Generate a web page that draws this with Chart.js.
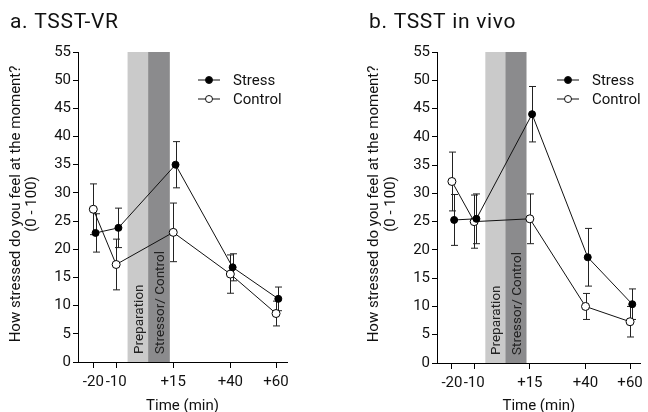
<!DOCTYPE html>
<html>
<head>
<meta charset="utf-8">
<script src="https://cdn.jsdelivr.net/npm/chart.js@4.4.0/dist/chart.umd.min.js"></script>
<style>
  html, body { margin: 0; padding: 0; background: #fff; }
  .panel { position: absolute; top: 0; width: 324px; height: 412px; }
  #left { left: 0; }
  #right { left: 324px; }
</style>
</head>
<body>
<div class="panel" id="left"><canvas id="chartVR" width="324" height="412"></canvas></div>
<div class="panel" id="right"><canvas id="chartVivo" width="324" height="412"></canvas></div>
<script>
// time points (min); stress markers sit slightly right of the ticks
const timePoints = [-20, -10, 15, 40, 60];
const stressTimes = [-19, -9, 16, 41, 61];
const timeLabels = ['-20', '-10', '+15', '+40', '+60'];

// a. TSST-VR
const vrStress = [22.9, 23.8, 35.0, 16.8, 11.2];
const vrStressErr = [3.4, 3.5, 4.1, 2.4, 2.1];
const vrControl = [27.1, 17.3, 23.0, 15.6, 8.6];
const vrControlErr = [4.5, 4.5, 5.2, 3.4, 2.2];

// b. TSST in vivo
const vivoStress = [25.3, 25.5, 44.0, 18.7, 10.4];
const vivoStressErr = [4.5, 4.4, 4.9, 5.1, 2.7];
const vivoControl = [32.1, 25.0, 25.5, 10.0, 7.3];
const vivoControlErr = [5.2, 4.7, 4.4, 2.3, 2.7];

// shaded phases: preparation, then stressor/control
const phaseLimits = [-5, 4, 13.5];
const phaseLabels = ['Preparation', 'Stressor/ Control'];
const phaseColors = ['#cacaca', '#8b8b8d'];

const yTitle = ['How stressed do you feel at the moment?', '(0 - 100)'];
const FONT = 'Roboto';
const INK = '#111';

function errorBars(ctx, x, y, times, vals, errs) {
  ctx.beginPath();
  times.forEach((t, i) => {
    const px = Math.round(x.getPixelForValue(t)) + 0.5;
    const top = y.getPixelForValue(vals[i] + errs[i]);
    const bot = y.getPixelForValue(vals[i] - errs[i]);
    ctx.moveTo(px, top);
    ctx.lineTo(px, bot);
    ctx.moveTo(px - 3.5, top);
    ctx.lineTo(px + 3.5, top);
    ctx.moveTo(px - 3.5, bot);
    ctx.lineTo(px + 3.5, bot);
  });
  ctx.stroke();
}

function decorPlugin(cfg) {
  return {
    id: 'decor',
    beforeDatasetsDraw(chart) {
      const { ctx, scales: { x, y } } = chart;
      const yTop = y.getPixelForValue(55);
      const yBot = y.getPixelForValue(0);
      ctx.save();
      for (let i = 0; i < 2; i++) {
        const x0 = x.getPixelForValue(phaseLimits[i]);
        const x1 = x.getPixelForValue(phaseLimits[i + 1]);
        ctx.fillStyle = phaseColors[i];
        ctx.fillRect(x0, yTop, x1 - x0, yBot - yTop);
        ctx.save();
        ctx.translate((x0 + x1) / 2 + 5, yBot - 8);
        ctx.rotate(-Math.PI / 2);
        ctx.fillStyle = '#222';
        ctx.font = '13.5px ' + FONT;
        ctx.textAlign = 'left';
        ctx.textBaseline = 'alphabetic';
        ctx.fillText(phaseLabels[i], 0, 0);
        ctx.restore();
      }
      ctx.strokeStyle = '#222';
      ctx.lineWidth = 1;
      errorBars(ctx, x, y, timePoints, cfg.control, cfg.controlErr);
      errorBars(ctx, x, y, stressTimes, cfg.stress, cfg.stressErr);
      ctx.restore();
    },
    afterDraw(chart) {
      const { ctx, chartArea } = chart;
      ctx.save();
      ctx.fillStyle = INK;
      // panel title
      ctx.font = '21px ' + FONT;
      ctx.letterSpacing = '0.7px';
      ctx.textAlign = 'left';
      ctx.textBaseline = 'alphabetic';
      ctx.fillText(cfg.title, cfg.titleX, 28);
      ctx.letterSpacing = '0px';
      // x axis title
      ctx.font = '15px ' + FONT;
      ctx.textAlign = 'center';
      ctx.fillText('Time (min)', (chartArea.left + chartArea.right) / 2, 410);
      // y axis title, two lines
      const midY = 204;
      cfg.yTitleX.forEach((bx, i) => {
        ctx.save();
        ctx.translate(bx, midY);
        ctx.rotate(-Math.PI / 2);
        ctx.textAlign = 'center';
        ctx.fillText(yTitle[i], 0, 0);
        ctx.restore();
      });
      // legend
      const lx = chartArea.left + 131;
      const names = ['Stress', 'Control'];
      names.forEach((name, i) => {
        const ly = chartArea.top + 28 + i * 19;
        ctx.strokeStyle = INK;
        ctx.lineWidth = 1;
        ctx.beginPath();
        ctx.moveTo(lx - 11, ly);
        ctx.lineTo(lx + 11, ly);
        ctx.stroke();
        ctx.beginPath();
        ctx.arc(lx, ly, 3.5, 0, Math.PI * 2);
        ctx.fillStyle = i === 0 ? '#000' : '#fff';
        ctx.fill();
        ctx.stroke();
        ctx.fillStyle = INK;
        ctx.font = '15px ' + FONT;
        ctx.textAlign = 'left';
        ctx.textBaseline = 'middle';
        ctx.fillText(name, lx + 24, ly + 1);
        ctx.textBaseline = 'alphabetic';
      });
      ctx.restore();
    }
  };
}

function makeChart(id, cfg) {
  const tickFont = { family: FONT, size: 15 };
  return new Chart(document.getElementById(id), {
    type: 'line',
    data: {
      datasets: [
        {
          label: 'Stress',
          data: stressTimes.map((t, i) => ({ x: t, y: cfg.stress[i] })),
          borderColor: INK,
          borderWidth: 1,
          pointRadius: 3.5,
          pointBackgroundColor: '#000',
          pointBorderColor: '#000',
          pointBorderWidth: 1,
          tension: 0
        },
        {
          label: 'Control',
          data: timePoints.map((t, i) => ({ x: t, y: cfg.control[i] })),
          borderColor: INK,
          borderWidth: 1,
          pointRadius: 4,
          pointBackgroundColor: '#fff',
          pointBorderColor: '#000',
          pointBorderWidth: 1,
          tension: 0
        }
      ]
    },
    options: {
      responsive: false,
      animation: false,
      layout: { padding: { top: 52, right: cfg.padRight, bottom: 0, left: 0 } },
      plugins: { legend: { display: false }, tooltip: { enabled: false } },
      scales: {
        x: {
          type: 'linear',
          min: -26.7,
          max: 64.8,
          afterBuildTicks: (s) => { s.ticks = timePoints.map((v) => ({ value: v })); },
          ticks: {
            autoSkip: false,
            maxRotation: 0,
            padding: 5,
            color: INK,
            font: tickFont,
            callback: (v, i) => timeLabels[i]
          },
          grid: { drawOnChartArea: false, drawTicks: true, tickLength: 6, color: '#000' },
          border: { color: '#000', width: 1 },
          afterFit: (s) => { s.height = cfg.xHeight; }
        },
        y: {
          min: 0,
          max: 55,
          ticks: { stepSize: 5, padding: 2, color: INK, font: tickFont },
          grid: { drawOnChartArea: false, drawTicks: true, tickLength: 5, color: '#000' },
          border: { color: '#000', width: 1 },
          afterFit: (s) => { s.width = cfg.yWidth; }
        }
      }
    },
    plugins: [decorPlugin(cfg)]
  });
}

makeChart('chartVR', {
  title: 'a. TSST-VR', titleX: 10,
  stress: vrStress, stressErr: vrStressErr,
  control: vrControl, controlErr: vrControlErr,
  yWidth: 78, xHeight: 50, padRight: 37,
  yTitleX: [19.5, 36]
});

makeChart('chartVivo', {
  title: 'b. TSST in vivo', titleX: 45,
  stress: vivoStress, stressErr: vivoStressErr,
  control: vivoControl, controlErr: vivoControlErr,
  yWidth: 113, xHeight: 49, padRight: 2,
  yTitleX: [54, 70.5]
});
</script>
</body>
</html>
